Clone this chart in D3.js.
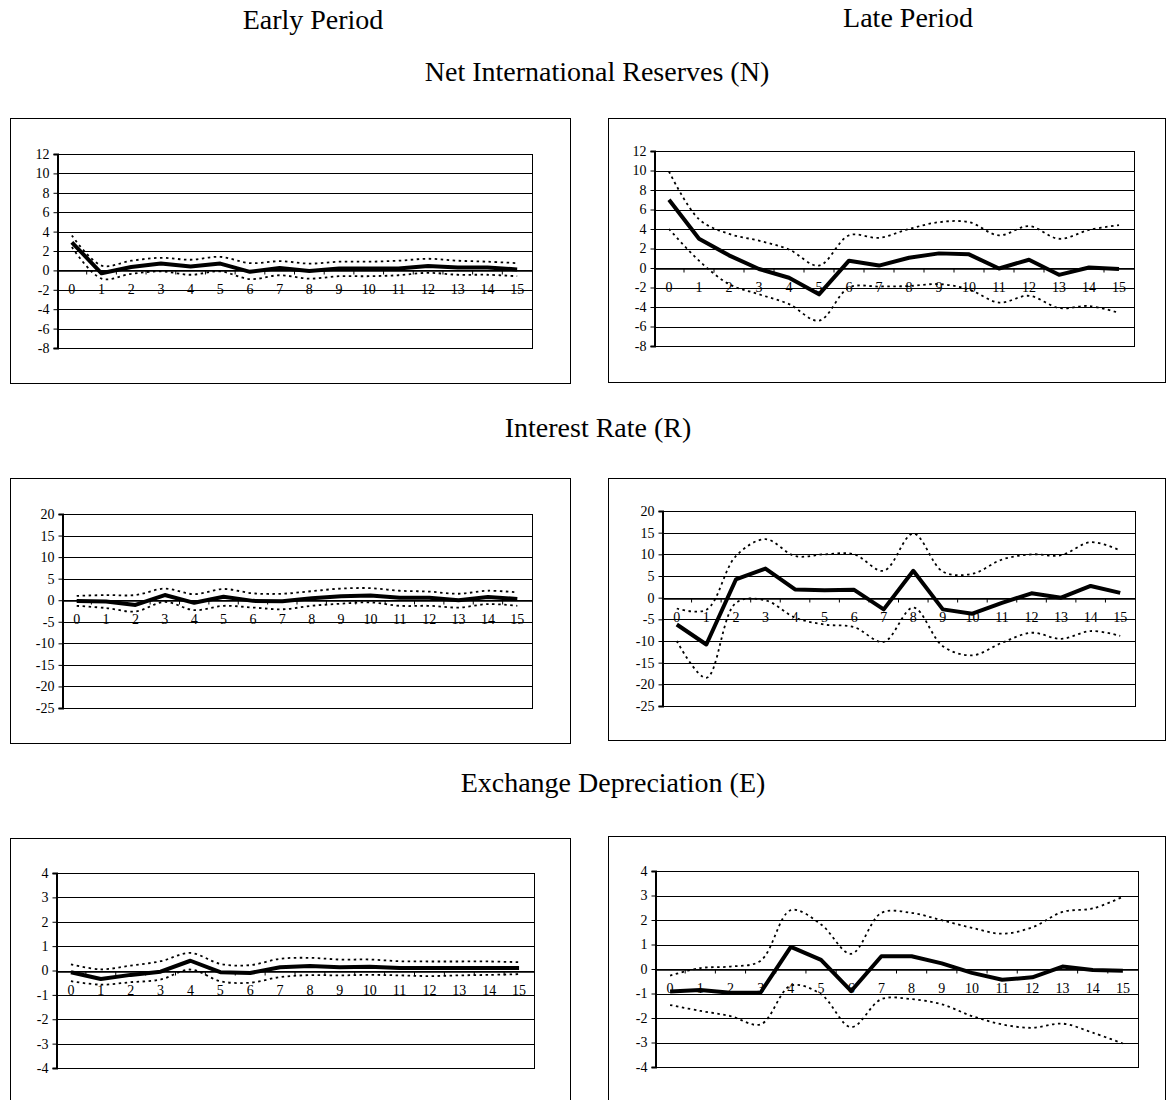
<!DOCTYPE html>
<html><head><meta charset="utf-8">
<script src="https://cdn.jsdelivr.net/npm/d3@7"></script>
<style>
body{margin:0;background:#fff;}
svg{display:block;}
</style></head>
<body>
<svg id="chart" width="1167" height="1100"></svg>
<script>
// ---- data ----
const periods = ["Early Period", "Late Period"];
const variables = ["Net International Reserves (N)", "Interest Rate (R)", "Exchange Depreciation (E)"];
const horizons = [0,1,2,3,4,5,6,7,8,9,10,11,12,13,14,15];

const yTicksN = [-8,-6,-4,-2,0,2,4,6,8,10,12];
const yTicksR = [-25,-20,-15,-10,-5,0,5,10,15,20];
const yTicksE = [-4,-3,-2,-1,0,1,2,3,4];

// Early N
const earlyN      = [2.9,-0.3,0.35,0.7,0.4,0.7,-0.15,0.25,-0.05,0.2,0.2,0.2,0.45,0.3,0.3,0.1];
const earlyNUpper = [3.6,0.5,1.0,1.3,1.1,1.4,0.75,0.95,0.7,0.9,0.9,1.0,1.2,1.0,0.9,0.75];
const earlyNLower = [2.4,-0.85,-0.35,-0.1,-0.45,-0.1,-0.9,-0.5,-0.85,-0.6,-0.6,-0.5,-0.25,-0.45,-0.45,-0.6];
// Late N
const lateN       = [7.0,3.0,1.3,-0.1,-1.0,-2.7,0.75,0.25,1.05,1.5,1.4,-0.05,0.85,-0.7,0.05,-0.1];
const lateNUpper  = [9.9,5.0,3.5,2.8,1.9,0.25,3.35,3.1,4.0,4.7,4.7,3.35,4.3,3.0,3.9,4.4];
const lateNLower  = [4.0,0.75,-1.65,-2.7,-3.7,-5.4,-2.0,-1.9,-1.85,-1.65,-2.2,-3.55,-2.85,-4.1,-3.9,-4.6];
// Early R
const earlyR      = [-0.2,-0.3,-1.1,1.2,-0.6,0.8,-0.15,-0.25,0.45,0.9,1.1,0.6,0.6,0,0.75,0.3];
const earlyRUpper = [1.0,1.2,1.2,2.7,1.4,2.6,1.6,1.5,2.1,2.7,2.8,2.2,2.0,1.5,2.2,1.8];
const earlyRLower = [-1.3,-1.8,-2.6,-0.4,-2.3,-1.3,-1.7,-2.1,-1.3,-0.8,-0.5,-1.3,-1.3,-1.7,-0.9,-1.3];
// Late R
const lateR       = [-6.2,-10.8,4.2,6.7,1.9,1.7,1.8,-2.7,6.2,-2.7,-3.7,-1.2,1.0,0,2.7,1.1];
const lateRUpper  = [-2.5,-2.8,9.6,13.5,9.6,10.0,10.0,6.2,14.8,6.0,5.5,8.8,10.0,9.8,12.8,10.9];
const lateRLower  = [-10,-18.5,-1.2,-0.6,-4.6,-6.2,-6.8,-10.2,-2.3,-11.2,-13.3,-10.4,-8.1,-9.5,-7.7,-8.8];
// Early E
const earlyE      = [-0.07,-0.35,-0.18,-0.05,0.4,-0.07,-0.1,0.13,0.18,0.13,0.15,0.1,0.1,0.1,0.1,0.1];
const earlyEUpper = [0.25,0.05,0.2,0.38,0.72,0.27,0.22,0.48,0.52,0.45,0.45,0.38,0.37,0.37,0.37,0.34];
const earlyELower = [-0.44,-0.58,-0.48,-0.37,0.04,-0.44,-0.5,-0.27,-0.19,-0.2,-0.18,-0.2,-0.23,-0.2,-0.18,-0.15];
// Late E
const lateE       = [-0.92,-0.86,-0.97,-0.96,0.9,0.37,-0.9,0.52,0.52,0.23,-0.16,-0.44,-0.34,0.1,-0.04,-0.07];
const lateEUpper  = [-0.27,0.04,0.1,0.34,2.4,1.82,0.62,2.29,2.29,1.99,1.68,1.44,1.7,2.33,2.47,2.95];
const lateELower  = [-1.47,-1.71,-1.92,-2.26,-0.68,-1.03,-2.37,-1.23,-1.23,-1.44,-1.92,-2.26,-2.4,-2.23,-2.6,-3.04];

// ---- layout (positions only) ----
const layout = [
  {frame:[10,118,570,383],  plot:[57,154,532,348],  ticks:yTicksN, main:earlyN, up:earlyNUpper, lo:earlyNLower},
  {frame:[608,118,1165,382],plot:[654,151,1134,346],ticks:yTicksN, main:lateN,  up:lateNUpper,  lo:lateNLower},
  {frame:[10,478,570,743],  plot:[62,514,532,708],  ticks:yTicksR, main:earlyR, up:earlyRUpper, lo:earlyRLower},
  {frame:[608,478,1165,740],plot:[662,511,1135,706],ticks:yTicksR, main:lateR,  up:lateRUpper,  lo:lateRLower},
  {frame:[10,838,570,1106], plot:[56,873,534,1068], ticks:yTicksE, main:earlyE, up:earlyEUpper, lo:earlyELower},
  {frame:[608,836,1165,1106],plot:[655,871,1138,1067],ticks:yTicksE, main:lateE, up:lateEUpper, lo:lateELower}
];

const svg = d3.select("#chart");
const serif = "'Liberation Serif','Times New Roman',serif";

function heading(txt, x, y){
  svg.append("text").attr("x",x).attr("y",y).attr("text-anchor","middle")
    .style("font-family",serif).style("font-size","28px").attr("fill","#000").text(txt);
}
heading(periods[0], 313, 29);
heading(periods[1], 908, 27);
heading(variables[0], 597, 81);
heading(variables[1], 598, 437);
heading(variables[2], 613, 792);

const fmt = d => String(d); // plain hyphen-minus as in the original

layout.forEach(p=>{
  const [fx0,fy0,fx1,fy1] = p.frame;
  const [px0,py0,px1,py1] = p.plot;
  svg.append("rect").attr("x",fx0+0.5).attr("y",fy0+0.5)
    .attr("width",fx1-fx0).attr("height",fy1-fy0)
    .attr("fill","#fff").attr("stroke","#000").attr("stroke-width",1);

  const x = d3.scaleBand().domain(horizons).range([px0,px1]).padding(0);
  const y = d3.scaleLinear().domain([d3.min(p.ticks), d3.max(p.ticks)]).range([py1,py0]);
  const g = svg.append("g");

  // gridlines
  g.append("g").selectAll("line").data(p.ticks).join("line")
    .attr("x1",px0).attr("x2",px1)
    .attr("y1",d=>Math.round(y(d))+0.5).attr("y2",d=>Math.round(y(d))+0.5)
    .attr("stroke","#000").attr("stroke-width",1);

  // plot border
  g.append("rect").attr("x",px0+0.5).attr("y",py0+0.5).attr("width",px1-px0).attr("height",py1-py0)
    .attr("fill","none").attr("stroke","#000").attr("stroke-width",1);

  // y axis
  const yAxis = d3.axisLeft(y).tickValues(p.ticks).tickFormat(fmt).tickSize(4).tickPadding(4);
  const ya = g.append("g").attr("transform",`translate(${px0+0.5},0)`).call(yAxis);
  ya.select(".domain").attr("stroke","#000").attr("stroke-width",2);
  ya.selectAll("text").style("font-family",serif).style("font-size","14px").attr("fill","#000");

  // category axis at zero
  const y0 = Math.round(y(0))+0.5;
  const xAxis = d3.axisBottom(x).tickFormat(fmt).tickSize(0).tickPadding(14);
  const xa = g.append("g").attr("transform",`translate(0,${y0})`).call(xAxis);
  xa.select(".domain").attr("stroke","#000").attr("stroke-width",1.5);
  xa.selectAll("text").style("font-family",serif).style("font-size","14px").attr("fill","#000");
  // minor tick marks between categories
  g.append("g").selectAll("line").data(horizons.slice(1)).join("line")
    .attr("x1",d=>x(d)).attr("x2",d=>x(d)).attr("y1",y0).attr("y2",y0+4)
    .attr("stroke","#000").attr("stroke-width",1);

  const cx = d=>x(d)+x.bandwidth()/2;
  const lineStraight = d3.line().x((d,i)=>cx(horizons[i])).y(d=>y(d));
  const lineSmooth = d3.line().x((d,i)=>cx(horizons[i])).y(d=>y(d)).curve(d3.curveCatmullRom.alpha(0.5));

  [p.up,p.lo].forEach(s=>{
    g.append("path").datum(s).attr("d",lineSmooth)
      .attr("fill","none").attr("stroke","#000").attr("stroke-width",1.8)
      .attr("stroke-dasharray","2.5,3.5");
  });
  g.append("path").datum(p.main).attr("d",lineStraight)
    .attr("fill","none").attr("stroke","#000").attr("stroke-width",4)
    .attr("stroke-linejoin","round");
});
</script>
</body></html>
